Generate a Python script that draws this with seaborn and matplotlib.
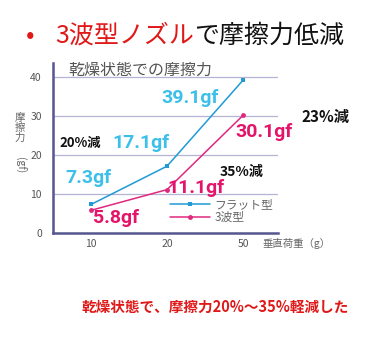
import matplotlib
matplotlib.use("Agg")
import matplotlib.pyplot as plt
import seaborn as sns
import pandas as pd

# Friction in the dry state for two nozzle shapes
loads = ["10", "20", "50"]
flat_gf = [7.3, 17.1, 39.1]
wave_gf = [5.8, 11.1, 30.1]
series_names = ["フラット型", "3波型"]
reductions = ["20%減", "35%減", "23%減"]
y_ticks = [0, 10, 20, 30, 40]

sns.set_theme(style="white")
JP = ["Noto Sans CJK JP", "DejaVu Sans"]
plt.rcParams["font.family"] = JP

BLUE = "#1f9ad6"
PINK = "#e0287e"
BLUE_TXT = "#3cbfe9"
PINK_TXT = "#e3146a"
AXIS = "#55558f"

df = pd.DataFrame({
    "load": loads * 2,
    "gf": flat_gf + wave_gf,
    "nozzle": [series_names[0]] * len(loads) + [series_names[1]] * len(loads),
})

fig = plt.figure(figsize=(3.84, 3.47), dpi=100)
ax = fig.add_axes([0.138, 0.3285, 0.586, 0.49])

sns.lineplot(data=df, x="load", y="gf", hue="nozzle", style="nozzle",
             palette=[BLUE, PINK], markers=["s", "o"], dashes=False,
             markersize=3.5, markeredgewidth=0, linewidth=1.1, ax=ax,
             sort=False)

ax.set_xlim(-0.5, 2.46)
ax.set_ylim(0, 43.5)
ax.set_yticks(y_ticks)
ax.set_yticklabels([str(t) for t in y_ticks])
ax.tick_params(axis="both", length=0, labelsize=7.5, colors="#555555")
ax.tick_params(axis="y", pad=8)
ax.tick_params(axis="x", pad=4)
for t in y_ticks[1:]:
    ax.axhline(t, color="#b4b4d4", linewidth=0.9, zorder=0)
for side in ["top", "right"]:
    ax.spines[side].set_visible(False)
for side in ["left", "bottom"]:
    ax.spines[side].set_color(AXIS)
    ax.spines[side].set_linewidth(1.8)
ax.set_xlabel("")
ax.set_ylabel("")

leg = ax.legend(loc="lower right", bbox_to_anchor=(1.0, 0.025), frameon=False,
                fontsize=8.5, handlelength=3.4, handletextpad=0.4,
                labelspacing=0.0, borderaxespad=0)
for txt in leg.get_texts():
    txt.set_color("#666666")

# value labels beside each point
value_font = dict(ha="center", va="center", fontsize=14, fontweight="bold",
                  family="Roboto")
offsets_flat = [(-3, 26), (-26, 23), (-53, -18)]
offsets_wave = [(25, -8), (29, 2), (21, -17)]
for i, (v, off) in enumerate(zip(flat_gf, offsets_flat)):
    ax.annotate(f"{v}gf", xy=(i, v), xytext=off, textcoords="offset pixels",
                color=BLUE_TXT, **value_font)
for i, (v, off) in enumerate(zip(wave_gf, offsets_wave)):
    ax.annotate(f"{v}gf", xy=(i, v), xytext=off, textcoords="offset pixels",
                color=PINK_TXT, **value_font)

# reduction rates
ax.text(0.12, 0.53, reductions[0], transform=ax.transAxes, ha="center",
        va="center", fontsize=9.5, fontweight="bold", color="#111111")
ax.text(0.84, 0.36, reductions[1], transform=ax.transAxes, ha="center",
        va="center", fontsize=10, fontweight="bold", color="#111111")
ax.text(1.21, 0.68, reductions[2], transform=ax.transAxes, ha="center",
        va="center", fontsize=11, fontweight="bold", color="#111111")

# chart caption and axis titles
ax.text(0.07, 0.955, "乾燥状態での摩擦力", transform=ax.transAxes,
        ha="left", va="center", fontsize=11.5, color="#555555")
fig.text(20 / 384, 1 - 128 / 347, "摩\n擦\n力", ha="center", va="center",
         fontsize=7.5, color="#666666", linespacing=1.0)
fig.text(20 / 384, 1 - 165 / 347, "(gf)", ha="center", va="center",
         fontsize=7.5, color="#666666", rotation=-90)
fig.text(262 / 384, 1 - 243 / 347, "垂直荷重（g）", ha="left", va="center",
         fontsize=7.5, color="#666666")

# headline
fig.text(30 / 384, 1 - 36 / 347, "•", ha="center", va="center",
         fontsize=18, color="#e01818")
head_red = fig.text(55 / 384, 1 - 36 / 347, "3波型ノズル", ha="left",
                    va="center", fontsize=18, color="#e01818")
fig.canvas.draw()
bb = head_red.get_window_extent()
fig.text(bb.x1 / fig.bbox.width, 1 - 36 / 347, "で摩擦力低減", ha="left",
         va="center", fontsize=18, color="#111111")

# conclusion
fig.text(215 / 384, 1 - 307 / 347, "乾燥状態で、摩擦力20%～35%軽減した",
         ha="center", va="center", fontsize=10.5, color="#e01818",
         fontweight="bold")

fig.savefig("out.png", dpi=100)
